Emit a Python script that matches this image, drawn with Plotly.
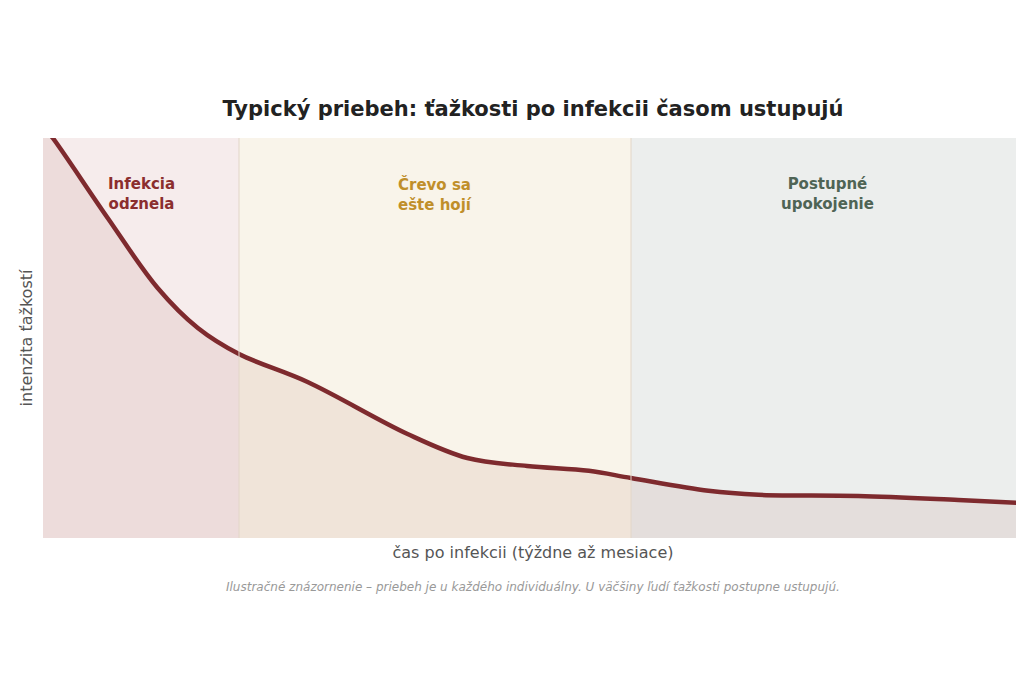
import plotly.graph_objects as go

x_vals = [0.0, 0.1, 0.66, 1.17, 1.58, 2.0, 2.7, 3.72, 4.33, 4.94, 5.57, 6.0, 6.79, 7.3, 8.32, 9.34, 10.0]
y_vals = [1.03, 1.0, 0.8, 0.625, 0.525, 0.46, 0.39, 0.26, 0.2, 0.18, 0.168, 0.15, 0.118, 0.108, 0.105, 0.095, 0.0875]
phase_bounds = [0, 2, 6, 10]
phase_labels = ["Infekcia<br>odznela", "Črevo sa<br>ešte hojí", "Postupné<br>upokojenie"]
phase_bg = ["#f6ecec", "#f9f4ea", "#eceeed"]
phase_text = ["#8b2e2e", "#c08f2a", "#4f6455"]

fig = go.Figure()
for i in range(3):
    fig.add_shape(type="rect", xref="x", yref="y", x0=phase_bounds[i], x1=phase_bounds[i+1], y0=0, y1=1,
                  fillcolor=phase_bg[i], line=dict(width=0), layer="below")
    fig.add_annotation(x=(phase_bounds[i]+phase_bounds[i+1])/2, y=0.86, text="<b>"+phase_labels[i]+"</b>",
                       showarrow=False, font=dict(size=15, color=phase_text[i], family="DejaVu Sans"))
for b in phase_bounds[1:3]:
    fig.add_shape(type="line", xref="x", yref="y", x0=b, x1=b, y0=0, y1=1, line=dict(color="#e2d6c8", width=1))

fig.add_trace(go.Scatter(x=x_vals, y=y_vals, mode="lines", line=dict(color="#7e2a2e", width=4.5, shape="spline"),
                         fill="tozeroy", fillcolor="rgba(160,70,60,0.09)", hoverinfo="skip", cliponaxis=True))

fig.update_layout(
    width=1024, height=683, paper_bgcolor="white", plot_bgcolor="white", showlegend=False,
    margin=dict(l=35, r=9, t=130, b=153, autoexpand=False),
    title=dict(text="<b>Typický priebeh: ťažkosti po infekcii časom ustupujú</b>", x=0.5, xref="paper", y=0.853, xanchor="center",
               yanchor="middle", font=dict(size=21, color="#222", family="DejaVu Sans")),
    xaxis=dict(range=[0, 10], showticklabels=False, showgrid=False, zeroline=False, automargin=False,
               title=dict(text="čas po infekcii (týždne až mesiace)", font=dict(size=16, color="#555", family="DejaVu Sans"), standoff=8)),
    yaxis=dict(range=[0, 1], showticklabels=False, showgrid=False, zeroline=False, automargin=False,
               title=dict(text="intenzita ťažkostí", font=dict(size=16, color="#555", family="DejaVu Sans"), standoff=5)),
)
fig.add_annotation(xref="paper", yref="paper", x=0.5, y=-0.145, showarrow=False,
                   text="<i>Ilustračné znázornenie – priebeh je u každého individuálny. U väčšiny ľudí ťažkosti postupne ustupujú.</i>",
                   font=dict(size=12, color="#999", family="DejaVu Sans"))
fig.write_html("out.html")
